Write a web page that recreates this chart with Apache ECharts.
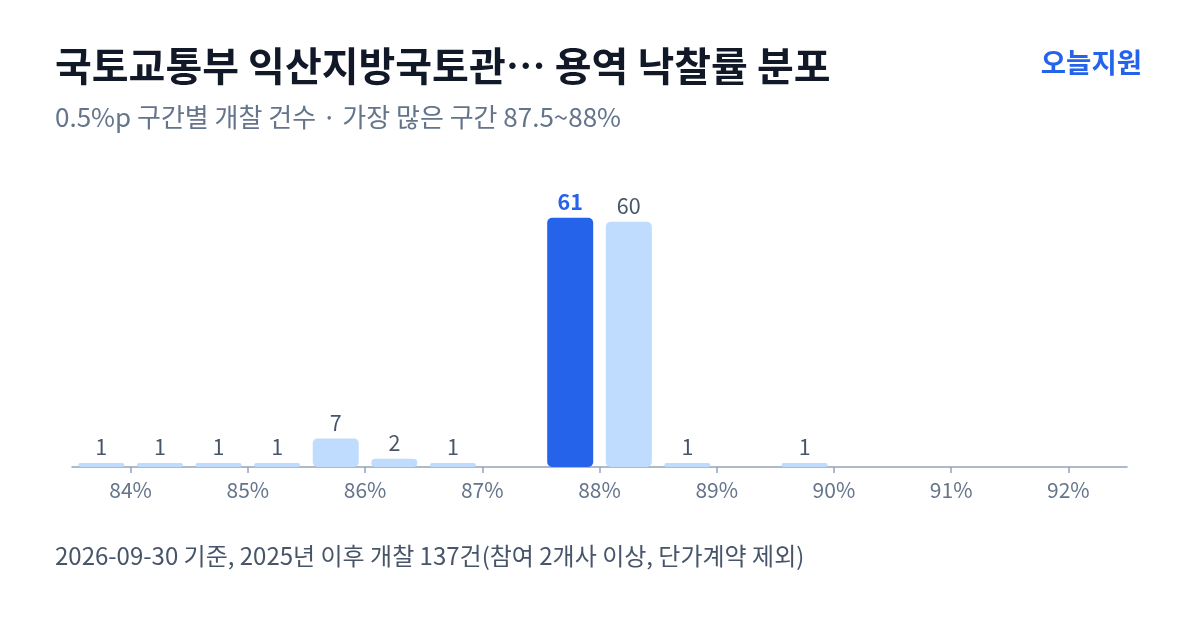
<!DOCTYPE html>
<html>
<head>
<meta charset="utf-8">
<script src="https://cdn.jsdelivr.net/npm/echarts@6/dist/echarts.min.js"></script>
<style>
html,body{margin:0;padding:0;background:#ffffff;}
#chart{width:1200px;height:630px;}
</style>
</head>
<body>
<div id="chart"></div>
<script>
// Bin start values (0.5%p bins)
const binStarts = [83.5, 84, 84.5, 85, 85.5, 86, 86.5, 87, 87.5, 88, 88.5, 89, 89.5, 90, 90.5, 91, 91.5, 92];
const counts    = [1, 1, 1, 1, 7, 2, 1, 0, 61, 60, 1, 0, 1, 0, 0, 0, 0, 0];
const tickLabels = [84, 85, 86, 87, 88, 89, 90, 91, 92];
const highlightBin = 87.5;
const binWidth = 0.5;

const titleText = '국토교통부 익산지방국토관… 용역 낙찰률 분포';
const subtitleText = '0.5%p 구간별 개찰 건수 · 가장 많은 구간 87.5~88%';
const brandText = '오늘지원';
const footerText = '2026-09-30 기준, 2025년 이후 개찰 137건(참여 2개사 이상, 단가계약 제외)';

const FONT = '"Noto Sans CJK KR", "Noto Sans", sans-serif';
const BLUE = '#2563eb';
const LIGHT = '#bfdbfe';

const barData = [];
binStarts.forEach((s, i) => {
  if (counts[i] > 0) {
    const hi = s === highlightBin;
    barData.push({
      value: [s + binWidth / 2, counts[i]],
      itemStyle: { color: hi ? BLUE : LIGHT },
      label: hi ? { color: BLUE, fontWeight: 'bold' } : {}
    });
  }
});

const chart = echarts.init(document.getElementById('chart'), null, { renderer: 'canvas' });
chart.setOption({
  backgroundColor: '#ffffff',
  animation: false,
  textStyle: { fontFamily: FONT },
  graphic: [
    { type: 'text', x: 55, y: 66, style: { text: titleText, font: 'bold 40px ' + FONT, fill: '#111827', verticalAlign: 'middle', align: 'left' } },
    { type: 'text', x: 55, y: 117, style: { text: subtitleText, font: '26px ' + FONT, fill: '#64748b', verticalAlign: 'middle', align: 'left' } },
    { type: 'text', x: 1142, y: 63, style: { text: brandText, font: 'bold 27.5px ' + FONT, fill: BLUE, verticalAlign: 'middle', align: 'right' } },
    { type: 'text', x: 55, y: 556, style: { text: footerText, font: '24px ' + FONT, fill: '#475569', verticalAlign: 'middle', align: 'left' } }
  ],
  grid: { left: 72, right: 73, top: 181, bottom: 163 },
  xAxis: {
    type: 'value',
    min: binStarts[0],
    max: binStarts[binStarts.length - 1] + binWidth,
    splitLine: { show: false },
    axisLine: { show: true, lineStyle: { color: '#94a3b8', width: 1.5 } },
    axisTick: { show: true, customValues: tickLabels, length: 6, lineStyle: { color: '#94a3b8', width: 1.5 } },
    axisLabel: { customValues: tickLabels, formatter: v => v + '%', color: '#64748b', fontSize: 21, margin: 13, fontFamily: FONT }
  },
  yAxis: {
    type: 'value', min: 0, max: 70, show: false, splitLine: { show: false }
  },
  series: [{
    type: 'bar',
    data: barData,
    barWidth: 46,
    itemStyle: { borderRadius: 5 },
    label: { show: true, position: 'top', distance: 5, color: '#475569', fontSize: 21.5, fontFamily: FONT, formatter: p => p.value[1] }
  }]
});
</script>
</body>
</html>
